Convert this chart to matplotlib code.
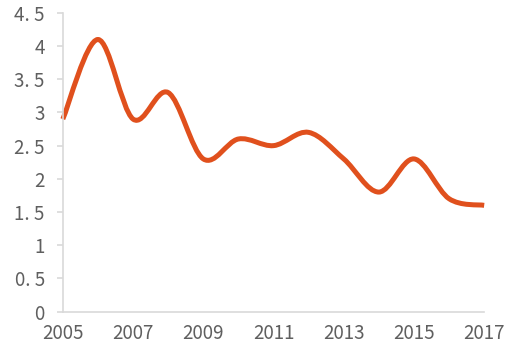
import numpy as np
import matplotlib
matplotlib.use('Agg')
import matplotlib.pyplot as plt
from matplotlib.path import Path
from matplotlib.patches import PathPatch

# data
years = [2005, 2006, 2007, 2008, 2009, 2010, 2011, 2012, 2013, 2014, 2015, 2016, 2017]
values = [2.9, 4.1, 2.9, 3.3, 2.3, 2.6, 2.5, 2.7, 2.3, 1.8, 2.3, 1.7, 1.6]
xticks = [2005, 2007, 2009, 2011, 2013, 2015, 2017]
yticks = [0, 0.5, 1, 1.5, 2, 2.5, 3, 3.5, 4, 4.5]
ylabels = ['0', '0. 5', '1', '1. 5', '2', '2. 5', '3', '3. 5', '4', '4. 5']

line_color = '#E0501D'
axis_color = '#D9D9D9'
text_color = '#5F5F5F'

plt.rcParams['font.family'] = ['Noto Sans CJK SC', 'DejaVu Sans']

fig = plt.figure(figsize=(5.28, 3.5), dpi=100)
ax = fig.add_axes([0.119, 0.11, 0.798, 0.853])

# smooth line like excel: bezier segments through the points
x = np.array(years, dtype=float)
y = np.array(values, dtype=float)
verts = [(x[0], y[0])]
codes = [Path.MOVETO]
n = len(x)
for i in range(n - 1):
    i0 = max(i - 1, 0)
    i2 = min(i + 2, n - 1)
    c1 = (x[i] + (x[i + 1] - x[i0]) / 6, y[i] + (y[i + 1] - y[i0]) / 6)
    c2 = (x[i + 1] - (x[i2] - x[i]) / 6, y[i + 1] - (y[i2] - y[i]) / 6)
    verts += [c1, c2, (x[i + 1], y[i + 1])]
    codes += [Path.CURVE4] * 3
patch = PathPatch(Path(verts, codes), facecolor='none', edgecolor=line_color,
                  lw=3.6, capstyle='butt', joinstyle='round', clip_on=False)
ax.add_patch(patch)

ax.set_xlim(2005, 2017)
ax.set_ylim(0, 4.5)
ax.set_xticks(xticks)
ax.set_xticklabels([str(v) for v in xticks])
ax.set_yticks(yticks)
ax.set_yticklabels(ylabels)

for s in ['top', 'right']:
    ax.spines[s].set_visible(False)
for s in ['left', 'bottom']:
    ax.spines[s].set_color(axis_color)
    ax.spines[s].set_linewidth(1.2)

ax.tick_params(axis='y', length=4, width=1.2, color=axis_color, labelcolor=text_color,
               labelsize=13.5, pad=9)
ax.tick_params(axis='x', length=0, labelcolor=text_color, labelsize=13.5, pad=8)

fig.savefig('out.png', dpi=100)
